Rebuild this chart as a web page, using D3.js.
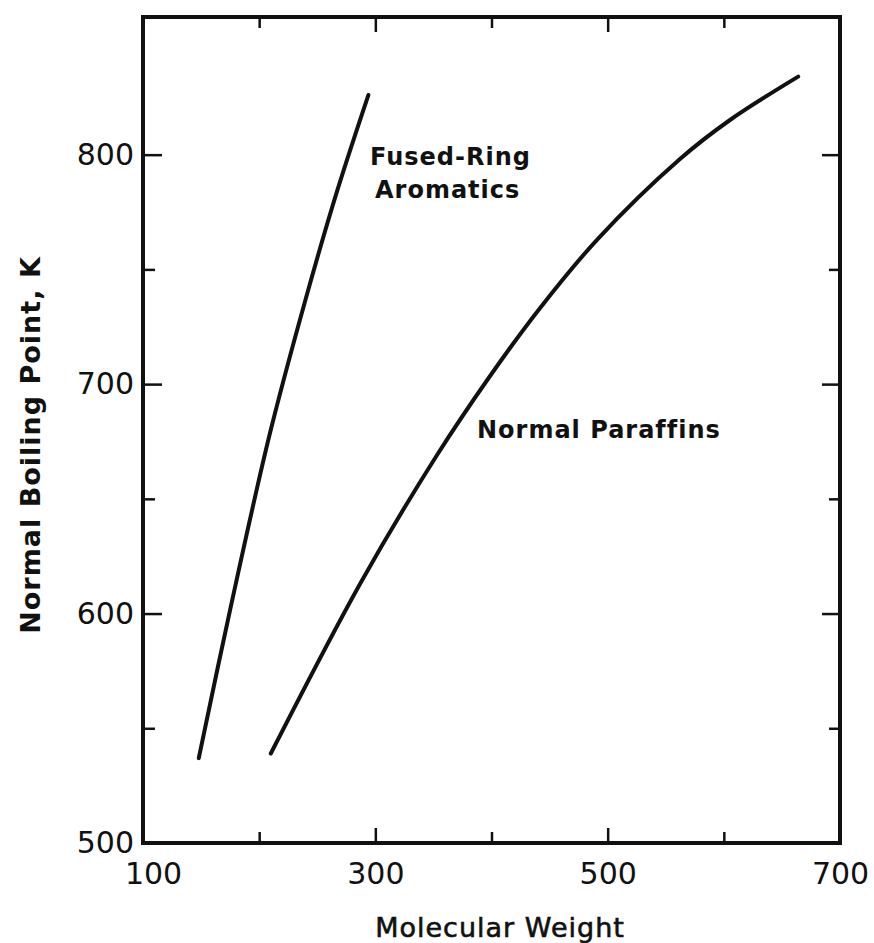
<!DOCTYPE html>
<html>
<head>
<meta charset="utf-8">
<script src="https://cdn.jsdelivr.net/npm/d3@7"></script>
<style>
  body { margin: 0; background: #fff; }
  text { font-family: "DejaVu Sans", sans-serif; fill: #111; }
</style>
</head>
<body>
<svg id="chart"></svg>
<script>
// curves
const fusedMW = [148, 176, 209, 240, 267, 294];
const fusedBP = [537, 604, 678, 737, 784, 826];

const paraffinMW = [210, 288, 353, 398, 440, 491, 562, 605, 664];
const paraffinBP = [539, 614, 669, 703, 732, 763, 798, 815, 834];

const xMajor = [100, 300, 500, 700];
const xMinor = [200, 400, 600];
const yMajor = [500, 600, 700, 800];
const yMinor = [550, 650, 750];

const width = 874;
const height = 943;
const margin = { top: 17, right: 34, bottom: 100, left: 143 };

const svg = d3.select("#chart")
    .attr("width", width)
    .attr("height", height);

const x = d3.scaleLinear()
    .domain([100, 700])
    .range([margin.left, width - margin.right]);

const y = d3.scaleLinear()
    .domain([500, 860])
    .range([height - margin.bottom, margin.top]);

const x0 = x.range()[0], x1 = x.range()[1];
const y0 = y.range()[0], y1 = y.range()[1];

function styleAxis(g) {
    g.select(".domain").remove();
    g.selectAll(".tick line").attr("stroke", "#111").attr("stroke-width", 2.5);
}

// bottom
svg.append("g")
    .attr("transform", `translate(0,${y0})`)
    .call(d3.axisBottom(x).tickValues(xMajor).tickSize(-15).tickPadding(20).tickFormat(d3.format("d")))
    .call(styleAxis)
    .call(g => g.selectAll("text")
        .attr("font-size", 30)
        .attr("fill", "#111")
        .attr("dx", d => d === 100 ? 10 : 0));
svg.append("g")
    .attr("transform", `translate(0,${y0})`)
    .call(d3.axisBottom(x).tickValues(xMinor).tickSize(-11).tickFormat(""))
    .call(styleAxis);

// top
svg.append("g")
    .attr("transform", `translate(0,${y1})`)
    .call(d3.axisTop(x).tickValues(xMajor).tickSize(-15).tickFormat(""))
    .call(styleAxis);
svg.append("g")
    .attr("transform", `translate(0,${y1})`)
    .call(d3.axisTop(x).tickValues(xMinor).tickSize(-11).tickFormat(""))
    .call(styleAxis);

// left
svg.append("g")
    .attr("transform", `translate(${x0},0)`)
    .call(d3.axisLeft(y).tickValues(yMajor).tickSize(-19).tickPadding(9).tickFormat(d3.format("d")))
    .call(styleAxis)
    .call(g => g.selectAll("text").attr("font-size", 30).attr("fill", "#111"));
svg.append("g")
    .attr("transform", `translate(${x0},0)`)
    .call(d3.axisLeft(y).tickValues(yMinor).tickSize(-12).tickFormat(""))
    .call(styleAxis);

// right
svg.append("g")
    .attr("transform", `translate(${x1},0)`)
    .call(d3.axisRight(y).tickValues(yMajor).tickSize(-18).tickFormat(""))
    .call(styleAxis);
svg.append("g")
    .attr("transform", `translate(${x1},0)`)
    .call(d3.axisRight(y).tickValues(yMinor).tickSize(-11).tickFormat(""))
    .call(styleAxis);

// frame
svg.append("rect")
    .attr("x", x0)
    .attr("y", y1)
    .attr("width", x1 - x0)
    .attr("height", y0 - y1)
    .attr("fill", "none")
    .attr("stroke", "#111")
    .attr("stroke-width", 4);

// curves
const line = d3.line()
    .x(d => x(d[0]))
    .y(d => y(d[1]))
    .curve(d3.curveCatmullRom.alpha(0.5));

const series = [
    d3.zip(fusedMW, fusedBP),
    d3.zip(paraffinMW, paraffinBP)
];

svg.selectAll(".curve")
    .data(series)
    .join("path")
    .attr("class", "curve")
    .attr("d", line)
    .attr("fill", "none")
    .attr("stroke", "#111")
    .attr("stroke-width", 4)
    .attr("stroke-linecap", "round");

// curve labels
svg.append("text")
    .attr("x", 370).attr("y", 165)
    .attr("font-size", 24).attr("font-weight", "bold")
    .attr("letter-spacing", 1)
    .text("Fused-Ring");
svg.append("text")
    .attr("x", 375).attr("y", 198)
    .attr("font-size", 24).attr("font-weight", "bold")
    .attr("letter-spacing", 1)
    .text("Aromatics");
svg.append("text")
    .attr("x", 477).attr("y", 438)
    .attr("font-size", 24).attr("font-weight", "bold")
    .attr("letter-spacing", 1)
    .text("Normal Paraffins");

// axis titles
svg.append("text")
    .attr("x", 500).attr("y", 937)
    .attr("text-anchor", "middle")
    .attr("font-size", 27)
    .attr("letter-spacing", 1)
    .attr("stroke", "#111").attr("stroke-width", 0.6)
    .text("Molecular Weight");

svg.append("text")
    .attr("transform", "translate(40,445) rotate(-90)")
    .attr("text-anchor", "middle")
    .attr("font-size", 27)
    .attr("font-weight", "bold")
    .attr("letter-spacing", 1)
    .text("Normal Boiling Point, K");
</script>
</body>
</html>
